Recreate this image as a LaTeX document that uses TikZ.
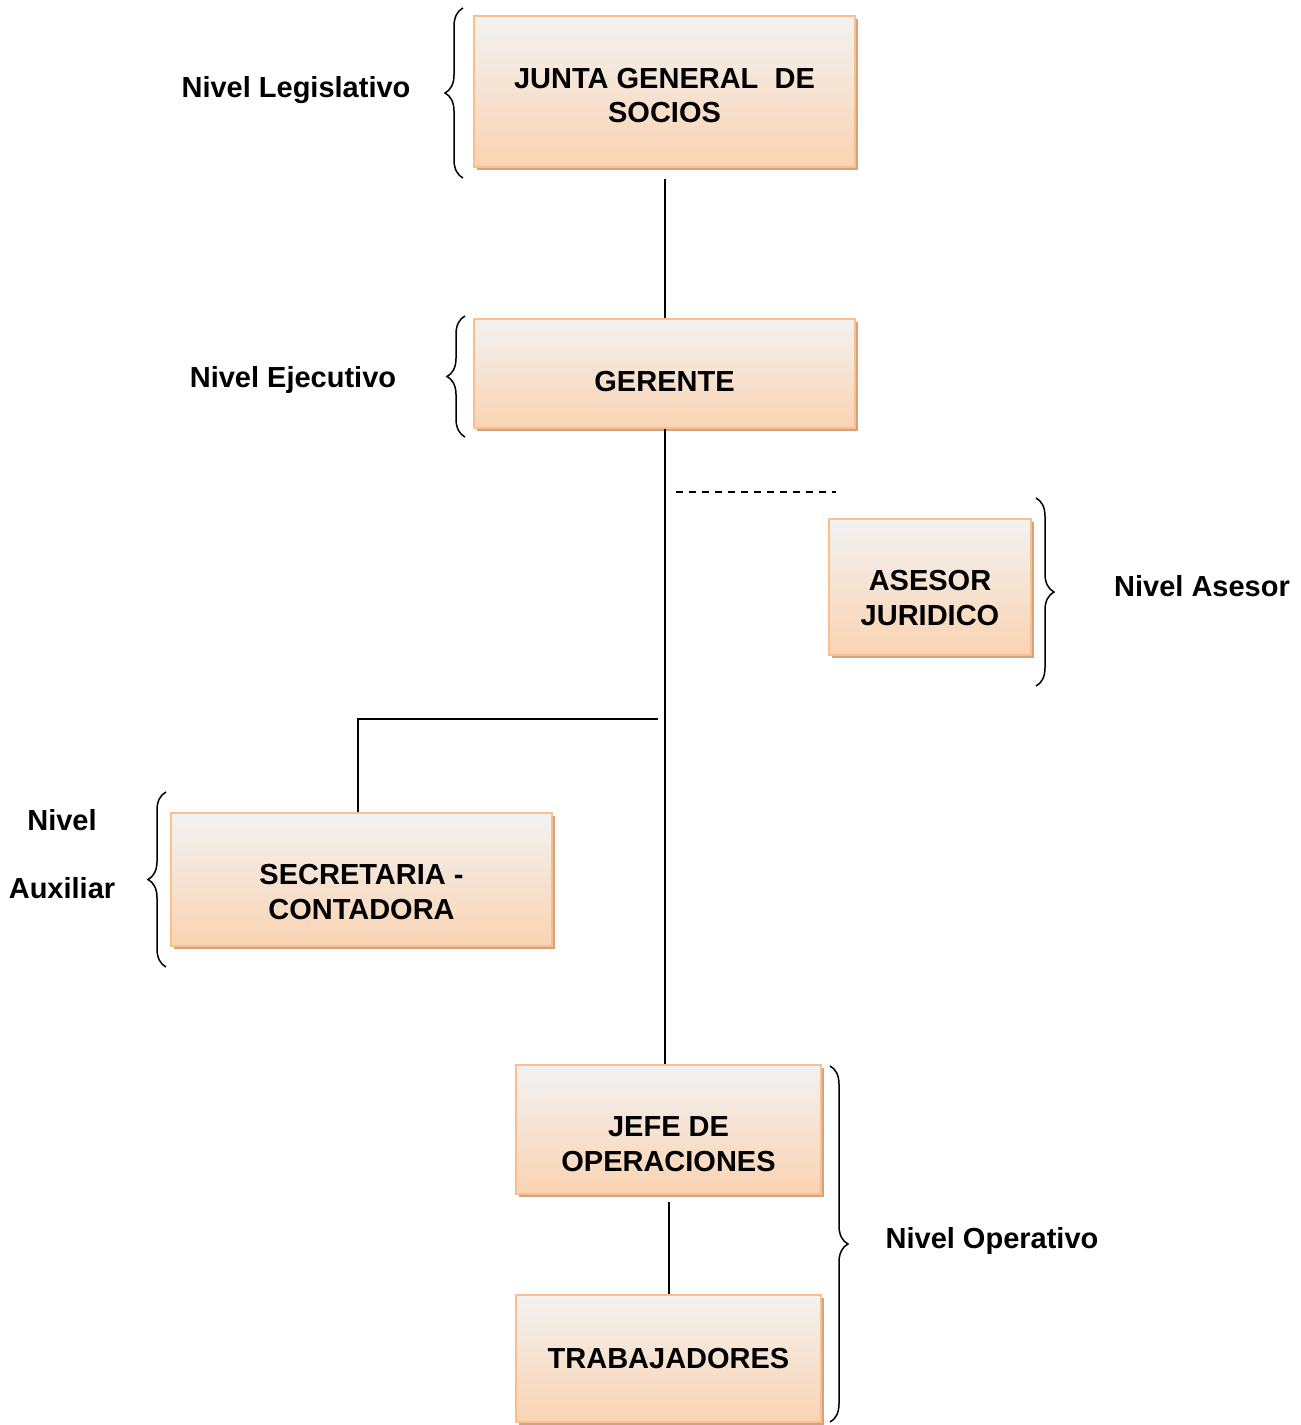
\documentclass[tikz,border=0pt]{standalone}
\usepackage{fontspec}
\setmainfont{Liberation Sans}
\usetikzlibrary{shadows,decorations.pathreplacing,calc}
\definecolor{boxtop}{RGB}{242,242,242}
\definecolor{boxbot}{RGB}{250,211,178}
\definecolor{boxline}{RGB}{250,191,143}
\definecolor{boxshadow}{RGB}{208,164,127}
\tikzset{
  orgbox/.style={draw=boxline, line width=1.5pt, top color=boxtop, bottom color=boxbot,
    inner sep=0pt,
    drop shadow={shadow xshift=3pt, shadow yshift=-3pt, fill=boxshadow, opacity=1}},
  boxtext/.style={font=\fontsize{29}{34.5}\selectfont\bfseries, align=center, inner sep=0pt},
  lvl/.style={font=\fontsize{29}{34.5}\selectfont\bfseries, align=center, inner sep=0pt},
  conn/.style={line width=2pt, black},
  bracel/.style={decorate, decoration={brace, amplitude=18pt}, line width=1.5pt},
}
\begin{document}
\begin{tikzpicture}[x=1pt,y=-1pt]
\useasboundingbox (0,0) rectangle (1301,1425);
\node[orgbox, minimum width=381pt, minimum height=151pt] (junta) at (664.5,91.5) {};
\node[boxtext] (juntat) at (664.5,95.5) {JUNTA GENERAL\ \ DE\\SOCIOS};
\node[orgbox, minimum width=381pt, minimum height=109pt] (gerente) at (664.5,373.5) {};
\node[boxtext] (gerentet) at (664.5,382) {GERENTE};
\node[orgbox, minimum width=202pt, minimum height=136pt] (asesor) at (930,587) {};
\node[boxtext] (asesort) at (930,598) {ASESOR\\JURIDICO};
\node[orgbox, minimum width=381pt, minimum height=133pt] (secre) at (361.5,879.5) {};
\node[boxtext] (secret) at (361.5,892) {SECRETARIA -\\CONTADORA};
\node[orgbox, minimum width=305pt, minimum height=129pt] (jefe) at (668.5,1129.5) {};
\node[boxtext] (jefet) at (668.5,1144) {JEFE DE\\OPERACIONES};
\node[orgbox, minimum width=305pt, minimum height=127pt] (trab) at (668.5,1358.5) {};
\node[boxtext] (trabt) at (668.5,1358) {TRABAJADORES};

\draw[conn] ($(junta.south)+(0,11)$) -- (gerente.north);
\draw[conn] (gerente.south) -- (gerente.south |- jefe.north);
\draw[conn] ($(jefe.south)+(0,7)$) -- (trab.north);
\coordinate (sj) at (658,719);
\coordinate (sd) at ($(secre.north)+(-3.5,0)$);
\draw[conn] (sj) -- (sj -| sd) -- (sd);
\coordinate (d1) at (676,492);
\coordinate (d2) at (836,492);
\draw[line width=1.5pt, dash pattern=on 7pt off 6pt] (d1) -- (d2);

\coordinate (b1a) at (463,178); \coordinate (b1b) at (463,8);
\draw[bracel] (b1a) -- (b1b);
\coordinate (b2a) at (465,437); \coordinate (b2b) at (465,316);
\draw[bracel] (b2a) -- (b2b);
\coordinate (b3a) at (1036,498); \coordinate (b3b) at (1036,686);
\draw[bracel] (b3a) -- (b3b);
\coordinate (b4a) at (166,967); \coordinate (b4b) at (166,792);
\draw[bracel] (b4a) -- (b4b);
\coordinate (b5a) at (830,1066); \coordinate (b5b) at (830,1422);
\draw[bracel] (b5a) -- (b5b);

\node[lvl] (l1) at (296,90) {Nivel Legislativo};
\node[lvl] (l2) at (293,380) {Nivel Ejecutivo};
\node[lvl] (l3) at (1202,586) {Nivel Asesor};
\node[lvl, font=\fontsize{29}{68}\selectfont\bfseries] (l4) at (62,854) {Nivel\\Auxiliar};
\node[lvl] (l5) at (992,1241) {Nivel Operativo};
\end{tikzpicture}
\end{document}
